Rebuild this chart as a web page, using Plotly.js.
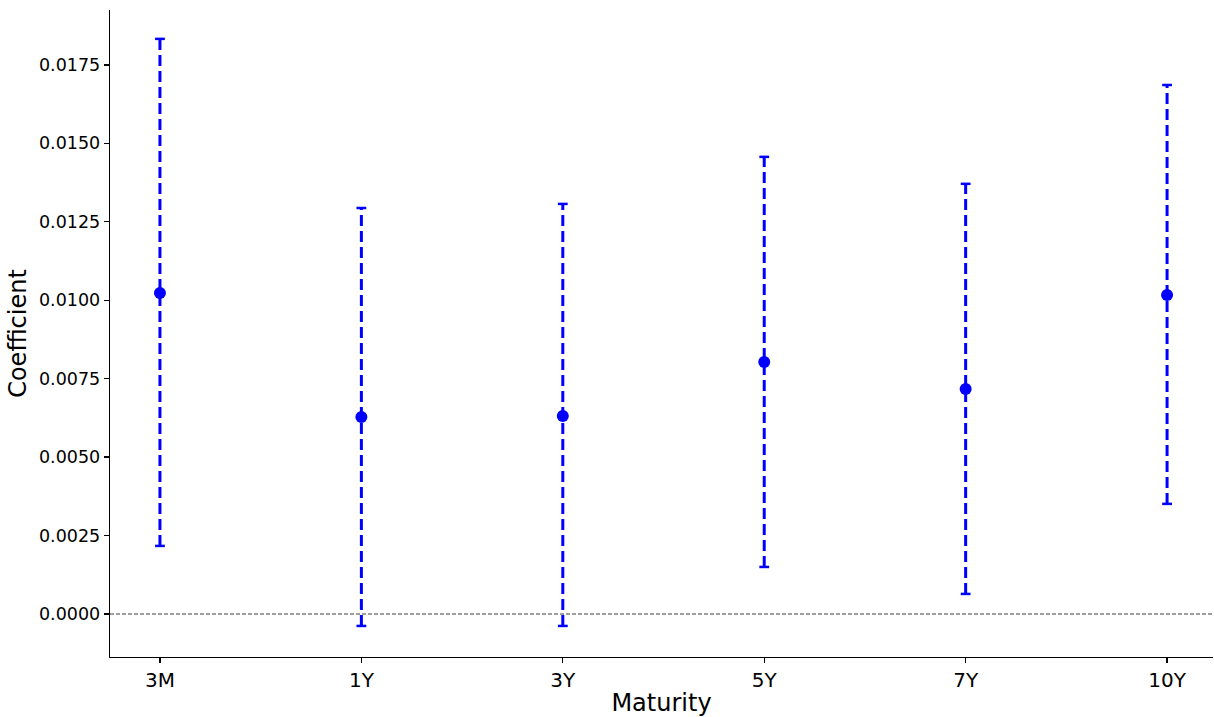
<!DOCTYPE html>
<html>
<head>
<meta charset="utf-8">
<script src="https://cdn.plot.ly/plotly-3.0.1.min.js"></script>
<style>html,body{margin:0;padding:0;background:#fff;}#chart{width:1214px;height:717px;}</style>
</head>
<body>
<div id="chart"></div>
<script>
const categories = ["3M", "1Y", "3Y", "5Y", "7Y", "10Y"];
const coef   = [0.01023, 0.00628, 0.00631, 0.00803, 0.00717, 0.01017];
const ciLow  = [0.00217, -0.00038, -0.00038, 0.00150, 0.00064, 0.00351];
const ciHigh = [0.01833, 0.01294, 0.01307, 0.01457, 0.01371, 0.01686];
const yTicks = [0, 0.0025, 0.005, 0.0075, 0.01, 0.0125, 0.015, 0.0175];

const blue = "#0000ff";
const lineX = [], lineY = [];
categories.forEach((c, i) => {
  lineX.push(c, c, null);
  lineY.push(ciLow[i], ciHigh[i], null);
});

const traces = [
  {x: lineX, y: lineY, type: "scatter", mode: "lines", connectgaps: false,
   line: {color: blue, width: 3, dash: "11px,5px"}, hoverinfo: "skip"},
  {x: categories.concat(categories), y: ciLow.concat(ciHigh), type: "scatter", mode: "markers",
   marker: {symbol: "line-ew", size: 7, color: blue, line: {color: blue, width: 2.5}}, hoverinfo: "skip"},
  {x: categories, y: coef, type: "scatter", mode: "markers",
   marker: {symbol: "circle", size: 12, color: blue}}
];

const font = {family: "DejaVu Sans, sans-serif", color: "#000"};
const layout = {
  width: 1214, height: 717,
  margin: {l: 110, r: 1, t: 10, b: 60},
  paper_bgcolor: "#fff", plot_bgcolor: "#fff",
  showlegend: false,
  font: font,
  xaxis: {
    type: "category", categoryorder: "array", categoryarray: categories,
    range: [-0.248, 5.228],
    showgrid: false, zeroline: false,
    showline: true, linecolor: "#000", linewidth: 1.3,
    ticks: "outside", ticklen: 5, tickwidth: 1.3, tickcolor: "#000",
    tickfont: {family: font.family, size: 20, color: "#000"},
    title: {text: "Maturity", font: {family: font.family, size: 24, color: "#000"}, standoff: 6}
  },
  yaxis: {
    range: [-0.00137, 0.01925],
    tickvals: yTicks, tickformat: ".4f",
    showgrid: false, zeroline: false,
    showline: true, linecolor: "#000", linewidth: 1.3,
    ticks: "outside", ticklen: 5, tickwidth: 1.3, tickcolor: "#000",
    tickfont: {family: font.family, size: 17.5, color: "#000"},
    title: {text: "Coefficient", font: {family: font.family, size: 24, color: "#000"}, standoff: 5}
  },
  shapes: [{
    type: "line", xref: "paper", x0: 0, x1: 1, yref: "y", y0: 0, y1: 0,
    line: {color: "#7f7f7f", width: 1.3, dash: "4px,2px"}, layer: "below"
  }]
};

Plotly.newPlot("chart", traces, layout, {displayModeBar: false, staticPlot: true});
</script>
</body>
</html>
